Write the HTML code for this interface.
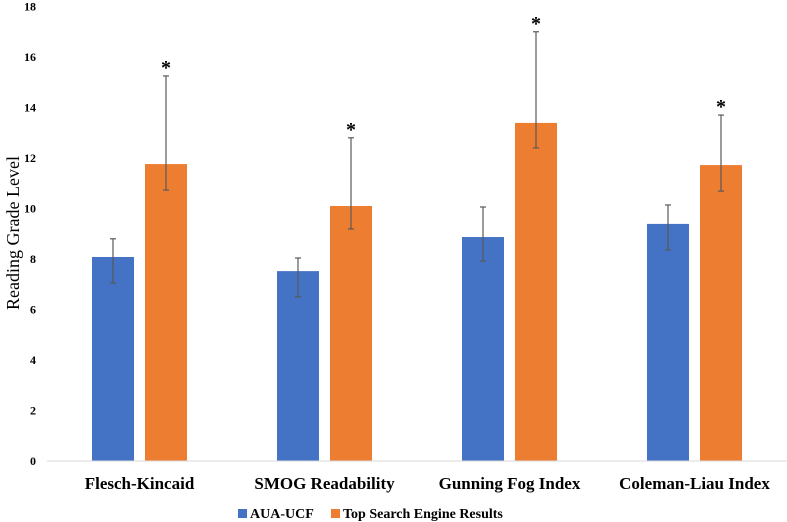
<!DOCTYPE html>
<html><head><meta charset="utf-8">
<style>
html,body{margin:0;padding:0;background:#fff;}
svg{display:block;font-family:"Liberation Serif",serif;}
</style></head>
<body>
<svg id="chart" width="787" height="522" viewBox="0 0 787 522" xmlns="http://www.w3.org/2000/svg">
<text transform="translate(19,233) rotate(-90)" text-anchor="middle" font-size="18" fill="#000">Reading Grade Level</text>
<g id="ticks"></g>
<g id="bars"></g>
<line x1="47" y1="461" x2="787" y2="461" stroke="#d9d9d9" stroke-width="1"/>
<g id="legend" font-size="14" font-weight="bold">
<rect x="238" y="509" width="9" height="9" fill="#4472c4"/>
<text x="250" y="518">AUA-UCF</text>
<rect x="331" y="509" width="9" height="9" fill="#ed7d31"/>
<text x="343" y="518">Top Search Engine Results</text>
</g>
</svg>
<script>
const categories=["Flesch-Kincaid","SMOG Readability","Gunning Fog Index","Coleman-Liau Index"];
const auaValues=[8.08,7.52,8.87,9.39];
const auaHigh=[8.8,8.04,10.06,10.14];
const auaLow=[7.05,6.5,7.92,8.36];
const topValues=[11.76,10.1,13.39,11.72];
const topHigh=[15.25,12.8,17.0,13.7];
const topLow=[10.73,9.19,12.4,10.69];
const yTicks=[0,2,4,6,8,10,12,14,16,18];

const NS="http://www.w3.org/2000/svg";
const y0=461, pxPerUnit=25.25, plotLeft=47, band=185;
function yScale(v){return y0-v*pxPerUnit;}
function xCenter(i){return plotLeft+band*(i+0.5);}
function mk(tag,attrs,parent){const e=document.createElementNS(NS,tag);for(const k in attrs)e.setAttribute(k,attrs[k]);parent.appendChild(e);return e;}

const tg=document.getElementById('ticks');
yTicks.forEach(t=>{
  const e=mk('text',{x:36,y:yScale(t)+4,'text-anchor':'end','font-size':'12','font-weight':'bold',fill:'#000'},tg);
  
  
  e.textContent=t;
});

const bg=document.getElementById('bars');
const bw=42;
function errBar(cx,hi,lo,parent){
  const g=mk('g',{stroke:'#595959','stroke-width':'1.2'},parent);
  
  
  mk('line',{x1:cx,x2:cx,y1:yScale(hi),y2:yScale(lo)},g);
  mk('line',{x1:cx-3,x2:cx+3,y1:yScale(hi),y2:yScale(hi)},g);
  mk('line',{x1:cx-3,x2:cx+3,y1:yScale(lo),y2:yScale(lo)},g);
}
categories.forEach((c,i)=>{
  const cx=xCenter(i);
  const bx=cx-47.5, ox=cx+5.5;
  const b=mk('rect',{x:bx,y:yScale(auaValues[i]),width:bw,height:y0-yScale(auaValues[i]),fill:'#4472c4'},bg);
  
  
  const o=mk('rect',{x:ox,y:yScale(topValues[i]),width:bw,height:y0-yScale(topValues[i]),fill:'#ed7d31'},bg);
  
  
  errBar(bx+bw/2,auaHigh[i],auaLow[i],bg);
  errBar(ox+bw/2,topHigh[i],topLow[i],bg);
  const s=mk('text',{x:ox+bw/2,y:yScale(topHigh[i])-2,'text-anchor':'middle','font-size':'20','font-weight':'bold',fill:'#000'},bg);
  
  
  s.textContent='*';
  const l=mk('text',{x:cx,y:489,'text-anchor':'middle','font-size':'17','font-weight':'bold',fill:'#000'},bg);
  
  
  l.textContent=c;
});
</script>
</body></html>
